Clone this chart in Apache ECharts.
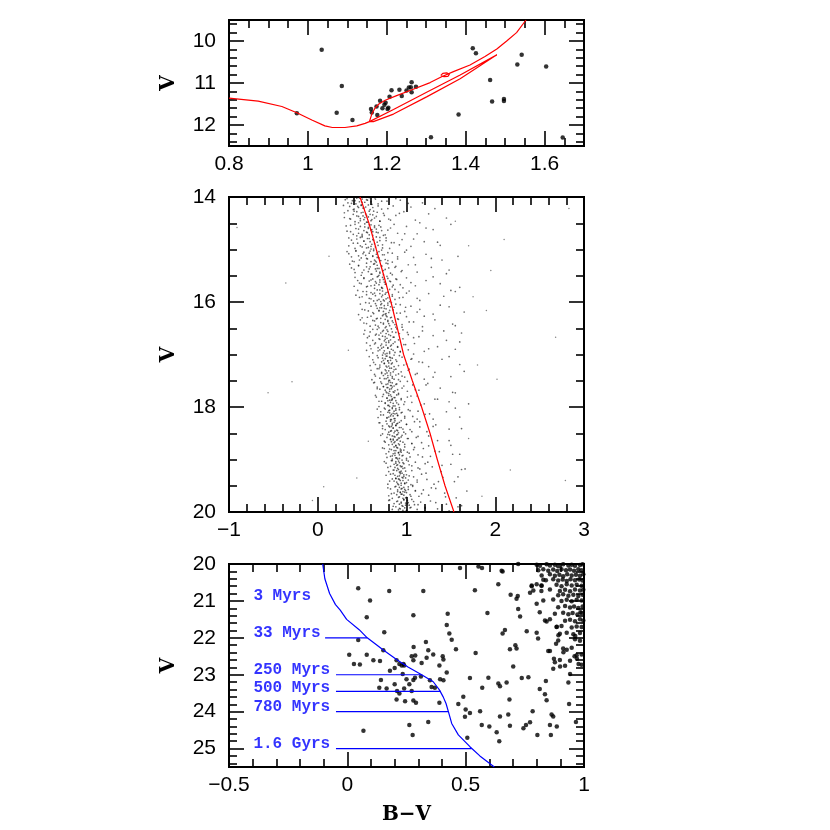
<!DOCTYPE html>
<html>
<head>
<meta charset="utf-8">
<script src="https://cdn.jsdelivr.net/npm/echarts@6.0.0/dist/echarts.min.js"></script>
<style>
  html, body { margin: 0; padding: 0; background: #fff; }
  #chart { width: 830px; height: 830px; }
</style>
</head>
<body>
<div id="chart"></div>
<script>
// ---- tick labels ----
var topXTicks = [0.8, 1, 1.2, 1.4, 1.6];
var topYTicks = [10, 11, 12];
var midXTicks = [-1, 0, 1, 2, 3];
var midYTicks = [14, 16, 18, 20];
var lowXTicks = [-0.5, 0, 0.5, 1];
var lowYTicks = [20, 21, 22, 23, 24, 25];

// ---- top panel: bright stars + isochrone ----
var topStars = [
  [1.035, 10.21], [1.086, 11.07], [0.972, 11.72], [1.073, 11.71], [1.113, 11.88],
  [1.16, 11.62], [1.162, 11.7], [1.174, 11.56], [1.176, 11.76], [1.183, 11.42],
  [1.189, 11.6], [1.194, 11.52], [1.197, 11.47], [1.202, 11.62], [1.204, 11.59],
  [1.207, 11.33], [1.212, 11.17], [1.232, 11.16], [1.238, 11.31], [1.25, 11.18],
  [1.256, 11.11], [1.261, 11.1], [1.263, 10.98], [1.263, 11.22], [1.274, 11.09],
  [1.418, 10.17], [1.426, 10.29], [1.462, 10.93], [1.467, 11.44], [1.497, 11.38],
  [1.497, 11.43], [1.531, 10.56], [1.542, 10.33], [1.604, 10.61], [1.382, 11.75],
  [1.312, 12.29], [1.646, 12.3]
];
var topIsoMain = [
  [0.8, 11.36], [0.874, 11.43], [0.934, 11.56], [0.972, 11.71], [1.01, 11.88],
  [1.043, 12.02], [1.062, 12.06], [1.094, 12.06], [1.124, 12.02], [1.145, 11.96],
  [1.156, 11.92], [1.162, 11.74], [1.17, 11.6], [1.18, 11.5], [1.196, 11.41],
  [1.225, 11.3], [1.267, 11.15], [1.31, 10.99], [1.339, 10.85], [1.369, 10.73],
  [1.411, 10.57], [1.449, 10.37], [1.479, 10.19], [1.504, 10.0], [1.529, 9.8],
  [1.553, 9.5]
];
var topIsoBranch = [
  [1.156, 11.92], [1.217, 11.63], [1.301, 11.22], [1.386, 10.81], [1.479, 10.33],
  [1.386, 10.9], [1.301, 11.33], [1.217, 11.74], [1.166, 11.92], [1.156, 11.92]
];
var topIsoLoop = [
  [1.337, 10.82], [1.342, 10.77], [1.352, 10.76], [1.359, 10.79], [1.355, 10.84],
  [1.345, 10.85], [1.337, 10.82]
];

// ---- middle panel: field CMD ----
var midStarsBright = [
  [0.33,14.03],[0.38,14.12],[0.42,14.07],[0.45,14.18],[0.47,14.02],[0.5,14.1],[0.52,14.21],[0.55,14.05],[0.57,14.15],[0.6,14.09],[0.62,14.2],[0.65,14.04],[0.68,14.13],[0.72,14.23],[0.78,14.08],[0.85,14.17],[0.93,14.06],[1.05,14.19],[1.18,14.11],[1.32,14.22],[0.4,14.24],[0.58,14.01],[0.49,14.16],
  [0.3,14.3],[0.36,14.41],[0.41,14.27],[0.44,14.36],[0.48,14.45],[0.51,14.29],[0.53,14.39],[0.56,14.48],[0.59,14.33],[0.61,14.43],[0.63,14.27],[0.66,14.37],[0.7,14.46],[0.74,14.31],[0.8,14.42],[0.88,14.35],[0.97,14.28],[1.1,14.44],[1.25,14.32],[1.45,14.4],[0.55,14.35],[0.46,14.49],
  [0.32,14.55],[0.37,14.66],[0.42,14.52],[0.46,14.61],[0.5,14.71],[0.53,14.57],[0.56,14.68],[0.58,14.53],[0.6,14.63],[0.62,14.73],[0.64,14.58],[0.66,14.67],[0.69,14.54],[0.72,14.64],[0.76,14.72],[0.82,14.59],[0.9,14.69],[1.0,14.56],[1.12,14.7],[1.3,14.62],[1.5,14.52],[0.44,14.74],[0.57,14.6],
  [0.35,14.78],[0.4,14.88],[0.44,14.8],[0.48,14.93],[0.52,14.84],[0.55,14.97],[0.58,14.79],[0.61,14.9],[0.63,14.82],[0.65,14.95],[0.67,14.86],[0.7,14.77],[0.73,14.91],[0.77,14.83],[0.81,14.98],[0.86,14.87],[0.95,14.81],[1.05,14.94],[1.2,14.85],[1.38,14.92],[0.6,14.99],[0.5,14.76],
  [0.33,15.04],[0.38,15.14],[0.43,15.02],[0.47,15.2],[0.51,15.08],[0.55,15.17],[0.59,15.03],[0.62,15.12],[0.65,15.22],[0.67,15.06],[0.69,15.16],[0.72,15.01],[0.75,15.1],[0.79,15.21],[0.84,15.07],[0.9,15.18],[0.98,15.05],[1.08,15.15],[1.22,15.09],[1.4,15.2],[1.58,15.13],[0.66,15.24],[0.41,15.23],
  [0.36,15.28],[0.41,15.38],[0.46,15.3],[0.5,15.44],[0.55,15.33],[0.6,15.47],[0.64,15.27],[0.67,15.36],[0.7,15.45],[0.72,15.31],[0.74,15.4],[0.77,15.26],[0.8,15.35],[0.84,15.48],[0.88,15.32],[0.94,15.42],[1.02,15.29],[1.12,15.43],[1.28,15.34],[1.48,15.39],[0.69,15.49],[0.58,15.37],
  [0.42,15.53],[0.47,15.64],[0.52,15.55],[0.56,15.7],[0.6,15.58],[0.64,15.68],[0.67,15.52],[0.7,15.62],[0.72,15.73],[0.74,15.57],[0.76,15.66],[0.78,15.51],[0.81,15.6],[0.84,15.71],[0.88,15.56],[0.93,15.67],[1.0,15.54],[1.1,15.69],[1.22,15.59],[1.38,15.65],[1.6,15.72],[0.73,15.74],[0.65,15.61],
  [0.45,15.78],[0.5,15.9],[0.55,15.8],[0.6,15.94],[0.64,15.83],[0.67,15.97],[0.7,15.77],[0.73,15.87],[0.75,15.98],[0.77,15.82],[0.79,15.92],[0.81,15.76],[0.84,15.86],[0.87,15.95],[0.91,15.81],[0.96,15.91],[1.03,15.79],[1.12,15.93],[1.25,15.84],[1.42,15.89],[0.71,15.99],[0.62,15.85],[1.55,15.8]
];
var midStarsMiddle = [
  [0.48,16.04],[0.53,16.15],[0.58,16.02],[0.62,16.2],[0.66,16.07],[0.69,16.17],[0.72,16.03],[0.75,16.12],[0.77,16.22],[0.79,16.06],[0.81,16.16],[0.83,16.01],[0.86,16.1],[0.89,16.21],[0.93,16.05],[0.98,16.18],[1.05,16.08],[1.15,16.14],[1.3,16.23],[1.48,16.09],[1.65,16.19],[0.74,16.24],[0.7,16.11],
  [0.5,16.3],[0.55,16.41],[0.6,16.27],[0.64,16.36],[0.68,16.46],[0.71,16.31],[0.74,16.4],[0.77,16.26],[0.79,16.35],[0.81,16.45],[0.83,16.29],[0.85,16.39],[0.88,16.48],[0.91,16.33],[0.95,16.43],[1.0,16.28],[1.08,16.38],[1.18,16.47],[1.32,16.34],[1.52,16.42],[0.76,16.49],[0.66,16.32],
  [0.53,16.54],[0.58,16.65],[0.62,16.52],[0.66,16.61],[0.7,16.71],[0.73,16.56],[0.76,16.66],[0.78,16.53],[0.8,16.62],[0.82,16.72],[0.84,16.57],[0.86,16.67],[0.89,16.51],[0.92,16.6],[0.96,16.7],[1.01,16.58],[1.08,16.68],[1.18,16.55],[1.3,16.64],[1.45,16.73],[1.62,16.59],[0.75,16.74],[0.69,16.63],
  [0.55,16.78],[0.6,16.89],[0.64,16.8],[0.68,16.93],[0.71,16.83],[0.74,16.97],[0.77,16.77],[0.79,16.87],[0.81,16.98],[0.83,16.82],[0.85,16.92],[0.87,16.76],[0.9,16.86],[0.93,16.95],[0.97,16.81],[1.02,16.91],[1.09,16.79],[1.2,16.94],[1.35,16.85],[1.55,16.9],[0.76,16.99],[0.72,16.88],
  [0.58,17.04],[0.63,17.15],[0.67,17.02],[0.7,17.2],[0.73,17.07],[0.75,17.17],[0.77,17.03],[0.79,17.12],[0.8,17.22],[0.82,17.06],[0.84,17.16],[0.86,17.01],[0.88,17.1],[0.91,17.21],[0.95,17.05],[1.0,17.18],[1.06,17.08],[1.14,17.14],[1.25,17.23],[1.4,17.09],[1.6,17.19],[0.78,17.24],[0.74,17.11],
  [0.6,17.3],[0.65,17.41],[0.69,17.27],[0.72,17.36],[0.75,17.46],[0.77,17.31],[0.79,17.4],[0.81,17.26],[0.82,17.35],[0.84,17.45],[0.86,17.29],[0.88,17.39],[0.91,17.48],[0.94,17.33],[0.98,17.43],[1.03,17.28],[1.1,17.38],[1.2,17.47],[1.32,17.34],[1.5,17.42],[0.8,17.49],[0.76,17.37],
  [0.63,17.54],[0.67,17.65],[0.71,17.52],[0.74,17.61],[0.77,17.71],[0.79,17.56],[0.81,17.66],[0.82,17.53],[0.84,17.62],[0.86,17.72],[0.88,17.57],[0.9,17.67],[0.93,17.51],[0.97,17.6],[1.01,17.7],[1.07,17.58],[1.14,17.68],[1.24,17.55],[1.38,17.64],[1.55,17.73],[0.8,17.74],[0.78,17.63],[0.83,17.59],
  [0.65,17.78],[0.69,17.89],[0.73,17.8],[0.76,17.93],[0.78,17.83],[0.8,17.97],[0.82,17.77],[0.83,17.87],[0.85,17.98],[0.87,17.82],[0.89,17.92],[0.91,17.76],[0.94,17.86],[0.97,17.95],[1.01,17.81],[1.06,17.91],[1.12,17.79],[1.2,17.94],[1.32,17.85],[1.48,17.9],[0.81,17.99],[0.79,17.88],[0.84,17.84]
];
var midStarsFaint = [
  [0.67,18.04],[0.71,18.15],[0.75,18.02],[0.78,18.2],[0.8,18.07],[0.82,18.17],[0.84,18.03],[0.85,18.12],[0.86,18.22],[0.88,18.06],[0.9,18.16],[0.92,18.01],[0.95,18.1],[0.98,18.21],[1.02,18.05],[1.07,18.18],[1.13,18.08],[1.21,18.14],[1.3,18.23],[1.45,18.09],[1.6,18.19],[0.83,18.24],[0.81,18.11],[0.87,18.13],
  [0.69,18.3],[0.73,18.41],[0.77,18.27],[0.8,18.36],[0.82,18.46],[0.84,18.31],[0.85,18.4],[0.87,18.26],[0.88,18.35],[0.9,18.45],[0.92,18.29],[0.94,18.39],[0.97,18.48],[1.0,18.33],[1.04,18.43],[1.09,18.28],[1.15,18.38],[1.23,18.47],[1.33,18.34],[1.48,18.42],[0.86,18.49],[0.83,18.37],[0.89,18.32],
  [0.71,18.54],[0.75,18.65],[0.79,18.52],[0.82,18.61],[0.84,18.71],[0.86,18.56],[0.87,18.66],[0.89,18.53],[0.9,18.62],[0.92,18.72],[0.94,18.57],[0.96,18.67],[0.99,18.51],[1.02,18.6],[1.06,18.7],[1.11,18.58],[1.17,18.68],[1.25,18.55],[1.35,18.64],[1.5,18.73],[0.88,18.74],[0.85,18.63],[0.91,18.59],
  [0.73,18.78],[0.77,18.89],[0.81,18.8],[0.84,18.93],[0.86,18.83],[0.88,18.97],[0.89,18.77],[0.91,18.87],[0.92,18.98],[0.94,18.82],[0.96,18.92],[0.98,18.76],[1.01,18.86],[1.04,18.95],[1.08,18.81],[1.13,18.91],[1.19,18.79],[1.27,18.94],[1.37,18.85],[1.52,18.9],[0.9,18.99],[0.87,18.88],[0.93,18.84],
  [0.75,19.04],[0.79,19.15],[0.83,19.02],[0.86,19.2],[0.88,19.07],[0.9,19.17],[0.91,19.03],[0.93,19.12],[0.94,19.22],[0.96,19.06],[0.98,19.16],[1.0,19.01],[1.03,19.1],[1.06,19.21],[1.1,19.05],[1.15,19.18],[1.21,19.08],[1.29,19.14],[1.39,19.23],[1.5,19.09],[1.62,19.19],[0.92,19.24],[0.89,19.11],[0.95,19.13],
  [0.77,19.3],[0.81,19.41],[0.85,19.27],[0.88,19.36],[0.9,19.46],[0.92,19.31],[0.93,19.4],[0.95,19.26],[0.96,19.35],[0.98,19.45],[1.0,19.29],[1.02,19.39],[1.05,19.48],[1.08,19.33],[1.12,19.43],[1.17,19.28],[1.23,19.38],[1.31,19.47],[1.41,19.34],[1.54,19.42],[0.94,19.49],[0.91,19.37],[0.97,19.32],
  [0.79,19.54],[0.83,19.65],[0.87,19.52],[0.9,19.61],[0.92,19.71],[0.94,19.56],[0.95,19.66],[0.97,19.53],[0.98,19.62],[1.0,19.72],[1.02,19.57],[1.04,19.67],[1.07,19.51],[1.1,19.6],[1.14,19.7],[1.19,19.58],[1.25,19.68],[1.33,19.55],[1.43,19.64],[1.56,19.73],[0.96,19.74],[0.93,19.63],[0.99,19.59],
  [0.8,19.78],[0.85,19.89],[0.89,19.8],[0.92,19.93],[0.94,19.83],[0.96,19.97],[0.97,19.77],[0.99,19.87],[1.0,19.98],[1.02,19.82],[1.04,19.92],[1.06,19.76],[1.09,19.86],[1.12,19.95],[1.16,19.81],[1.21,19.91],[1.27,19.79],[1.35,19.94],[1.45,19.85],[1.58,19.9],[0.98,19.99],[0.95,19.88],[1.01,19.84]
];
var midStarsCore = [
  [1.02,14.12],[0.88,14.03],[0.79,14.22],[0.72,14.08],[0.68,14.17],[0.64,14.01],[0.61,14.14],[0.59,14.24],[0.56,14.06],[0.54,14.19],[0.53,14.1],[0.51,14.21],[0.5,14.04],[0.49,14.15],[0.47,14.09],[0.46,14.2],[0.44,14.02],[0.43,14.13],[0.41,14.23],[0.39,14.07],[0.36,14.18],[0.34,14.11],[0.31,14.05],[0.29,14.16],
  [1.15,14.49],[0.92,14.31],[0.82,14.44],[0.75,14.35],[0.7,14.46],[0.67,14.29],[0.64,14.4],[0.62,14.34],[0.6,14.45],[0.58,14.27],[0.57,14.38],[0.55,14.48],[0.54,14.32],[0.52,14.43],[0.51,14.36],[0.49,14.3],[0.48,14.41],[0.46,14.37],[0.44,14.28],[0.42,14.47],[0.4,14.33],[0.37,14.42],[0.34,14.26],[0.3,14.39],
  [1.22,14.59],[0.98,14.7],[0.86,14.52],[0.79,14.63],[0.74,14.73],[0.71,14.57],[0.68,14.68],[0.66,14.61],[0.64,14.55],[0.62,14.66],[0.61,14.62],[0.6,14.53],[0.58,14.72],[0.57,14.58],[0.55,14.67],[0.53,14.51],[0.52,14.64],[0.5,14.74],[0.48,14.56],[0.46,14.69],[0.43,14.6],[0.4,14.71],[0.37,14.54],[0.33,14.65],
  [1.35,14.86],[1.08,14.8],[0.92,14.91],[0.83,14.87],[0.77,14.78],[0.73,14.97],[0.7,14.83],[0.68,14.92],[0.66,14.76],[0.64,14.89],[0.63,14.99],[0.62,14.81],[0.6,14.94],[0.59,14.85],[0.57,14.96],[0.56,14.79],[0.54,14.9],[0.52,14.84],[0.5,14.95],[0.48,14.77],[0.45,14.88],[0.42,14.98],[0.38,14.82],[0.35,14.93],
  [1.28,15.17],[1.0,15.01],[0.9,15.14],[0.84,15.24],[0.79,15.06],[0.76,15.19],[0.73,15.1],[0.71,15.21],[0.69,15.04],[0.67,15.15],[0.66,15.09],[0.64,15.2],[0.63,15.02],[0.62,15.13],[0.6,15.23],[0.58,15.07],[0.56,15.18],[0.54,15.11],[0.52,15.05],[0.49,15.16],[0.46,15.12],[0.43,15.03],[0.39,15.22],[0.35,15.08],
  [1.45,15.46],[1.1,15.29],[0.95,15.4],[0.87,15.34],[0.82,15.45],[0.79,15.27],[0.76,15.38],[0.74,15.48],[0.72,15.32],[0.7,15.43],[0.69,15.36],[0.67,15.3],[0.66,15.41],[0.65,15.37],[0.63,15.28],[0.61,15.47],[0.59,15.33],[0.57,15.42],[0.55,15.26],[0.52,15.39],[0.49,15.49],[0.46,15.31],[0.42,15.44],[0.38,15.35],
  [1.3,15.52],[1.05,15.63],[0.96,15.73],[0.89,15.57],[0.85,15.68],[0.82,15.61],[0.79,15.55],[0.77,15.66],[0.75,15.62],[0.73,15.53],[0.72,15.72],[0.7,15.58],[0.69,15.67],[0.68,15.51],[0.66,15.64],[0.64,15.74],[0.62,15.56],[0.6,15.69],[0.58,15.6],[0.55,15.71],[0.52,15.54],[0.49,15.65],[0.45,15.59],[0.41,15.7],
  [1.5,15.78],[1.15,15.97],[1.0,15.83],[0.92,15.92],[0.87,15.76],[0.84,15.89],[0.81,15.99],[0.79,15.81],[0.77,15.94],[0.76,15.85],[0.74,15.96],[0.73,15.79],[0.72,15.9],[0.7,15.84],[0.69,15.95],[0.67,15.77],[0.65,15.88],[0.63,15.98],[0.6,15.82],[0.58,15.93],[0.55,15.86],[0.51,15.8],[0.47,15.91],[0.43,15.87],
  [1.38,16.06],[1.12,16.19],[0.99,16.1],[0.93,16.21],[0.88,16.04],[0.85,16.15],[0.82,16.09],[0.8,16.2],[0.79,16.02],[0.77,16.13],[0.76,16.23],[0.75,16.07],[0.74,16.18],[0.72,16.11],[0.71,16.05],[0.69,16.16],[0.67,16.12],[0.65,16.03],[0.63,16.22],[0.6,16.08],[0.57,16.17],[0.54,16.01],[0.5,16.14],[0.46,16.24],
  [1.55,16.45],[1.2,16.27],[1.03,16.38],[0.95,16.48],[0.9,16.32],[0.87,16.43],[0.84,16.36],[0.82,16.3],[0.8,16.41],[0.79,16.37],[0.78,16.28],[0.77,16.47],[0.76,16.33],[0.74,16.42],[0.73,16.26],[0.71,16.39],[0.69,16.49],[0.67,16.31],[0.65,16.44],[0.62,16.35],[0.59,16.46],[0.56,16.29],[0.52,16.4],[0.48,16.34],
  [1.42,16.55],[1.14,16.66],[1.02,16.62],[0.96,16.53],[0.91,16.72],[0.88,16.58],[0.85,16.67],[0.83,16.51],[0.82,16.64],[0.8,16.74],[0.79,16.56],[0.78,16.69],[0.77,16.6],[0.76,16.71],[0.74,16.54],[0.73,16.65],[0.71,16.59],[0.69,16.7],[0.67,16.52],[0.65,16.63],[0.62,16.73],[0.59,16.57],[0.56,16.68],[0.52,16.61],
  [1.6,16.76],[1.25,16.89],[1.08,16.99],[0.99,16.81],[0.93,16.94],[0.9,16.85],[0.87,16.96],[0.85,16.79],[0.83,16.9],[0.82,16.84],[0.81,16.95],[0.8,16.77],[0.79,16.88],[0.78,16.98],[0.77,16.82],[0.75,16.93],[0.74,16.86],[0.72,16.8],[0.7,16.91],[0.68,16.87],[0.65,16.78],[0.62,16.97],[0.59,16.83],[0.55,16.92],
  [1.48,17.04],[1.18,17.15],[1.05,17.09],[0.97,17.2],[0.92,17.02],[0.89,17.13],[0.86,17.23],[0.84,17.07],[0.83,17.18],[0.82,17.11],[0.81,17.05],[0.8,17.16],[0.79,17.12],[0.78,17.03],[0.77,17.22],[0.76,17.08],[0.75,17.17],[0.73,17.01],[0.72,17.14],[0.7,17.24],[0.68,17.06],[0.65,17.19],[0.62,17.1],[0.59,17.21],
  [1.65,17.32],[1.3,17.43],[1.12,17.36],[1.02,17.3],[0.95,17.41],[0.91,17.37],[0.88,17.28],[0.86,17.47],[0.85,17.33],[0.84,17.42],[0.83,17.26],[0.82,17.39],[0.81,17.49],[0.8,17.31],[0.79,17.44],[0.78,17.35],[0.77,17.46],[0.76,17.29],[0.74,17.4],[0.72,17.34],[0.7,17.45],[0.67,17.27],[0.64,17.38],[0.61,17.48],
  [1.52,17.72],[1.22,17.58],[1.1,17.67],[1.01,17.51],[0.95,17.64],[0.91,17.74],[0.89,17.56],[0.87,17.69],[0.86,17.6],[0.85,17.71],[0.84,17.54],[0.83,17.65],[0.82,17.59],[0.81,17.7],[0.8,17.52],[0.79,17.63],[0.78,17.73],[0.77,17.57],[0.76,17.68],[0.74,17.61],[0.72,17.55],[0.7,17.66],[0.67,17.62],[0.64,17.53],
  [1.7,17.94],[1.35,17.85],[1.16,17.96],[1.05,17.79],[0.98,17.9],[0.94,17.84],[0.91,17.95],[0.89,17.77],[0.88,17.88],[0.87,17.98],[0.86,17.82],[0.85,17.93],[0.84,17.86],[0.83,17.8],[0.82,17.91],[0.81,17.87],[0.8,17.78],[0.79,17.97],[0.78,17.83],[0.76,17.92],[0.74,17.76],[0.72,17.89],[0.69,17.99],[0.66,17.81],
  [1.55,18.02],[1.26,18.13],[1.12,18.23],[1.04,18.07],[0.98,18.18],[0.94,18.11],[0.92,18.05],[0.9,18.16],[0.89,18.12],[0.88,18.03],[0.87,18.22],[0.86,18.08],[0.85,18.17],[0.84,18.01],[0.83,18.14],[0.82,18.24],[0.81,18.06],[0.8,18.19],[0.79,18.1],[0.78,18.21],[0.76,18.04],[0.74,18.15],[0.71,18.09],[0.68,18.2],
  [1.62,18.41],[1.3,18.37],[1.15,18.28],[1.06,18.47],[1.0,18.33],[0.96,18.42],[0.94,18.26],[0.92,18.39],[0.91,18.49],[0.9,18.31],[0.89,18.44],[0.88,18.35],[0.87,18.46],[0.86,18.29],[0.85,18.4],[0.84,18.34],[0.83,18.45],[0.82,18.27],[0.81,18.38],[0.8,18.48],[0.78,18.32],[0.76,18.43],[0.73,18.36],[0.7,18.3],
  [1.48,18.64],[1.25,18.74],[1.13,18.56],[1.06,18.69],[1.01,18.6],[0.98,18.71],[0.95,18.54],[0.93,18.65],[0.92,18.59],[0.91,18.7],[0.9,18.52],[0.89,18.63],[0.88,18.73],[0.87,18.57],[0.86,18.68],[0.85,18.61],[0.84,18.55],[0.83,18.66],[0.82,18.62],[0.81,18.53],[0.8,18.72],[0.78,18.58],[0.76,18.67],[0.73,18.51],
  [1.6,18.9],[1.32,18.84],[1.18,18.95],[1.09,18.77],[1.03,18.88],[1.0,18.98],[0.97,18.82],[0.95,18.93],[0.94,18.86],[0.93,18.8],[0.92,18.91],[0.91,18.87],[0.9,18.78],[0.89,18.97],[0.88,18.83],[0.87,18.92],[0.86,18.76],[0.85,18.89],[0.84,18.99],[0.83,18.81],[0.82,18.94],[0.8,18.85],[0.78,18.96],[0.75,18.79],
  [1.66,19.18],[1.4,19.11],[1.24,19.05],[1.13,19.16],[1.06,19.12],[1.02,19.03],[0.99,19.22],[0.97,19.08],[0.96,19.17],[0.95,19.01],[0.94,19.14],[0.93,19.24],[0.92,19.06],[0.91,19.19],[0.9,19.1],[0.89,19.21],[0.88,19.04],[0.87,19.15],[0.86,19.09],[0.85,19.2],[0.84,19.02],[0.82,19.13],[0.8,19.23],[0.77,19.07],
  [1.58,19.33],[1.36,19.42],[1.22,19.26],[1.12,19.39],[1.07,19.49],[1.03,19.31],[1.0,19.44],[0.99,19.35],[0.98,19.46],[0.97,19.29],[0.96,19.4],[0.95,19.34],[0.94,19.45],[0.93,19.27],[0.92,19.38],[0.91,19.48],[0.9,19.32],[0.89,19.43],[0.88,19.36],[0.87,19.3],[0.86,19.41],[0.84,19.37],[0.82,19.28],[0.79,19.47],
  [1.68,19.6],[1.44,19.71],[1.28,19.54],[1.17,19.65],[1.1,19.59],[1.05,19.7],[1.02,19.52],[1.0,19.63],[0.99,19.73],[0.98,19.57],[0.97,19.68],[0.96,19.61],[0.95,19.55],[0.94,19.66],[0.93,19.62],[0.92,19.53],[0.91,19.72],[0.9,19.58],[0.89,19.67],[0.88,19.51],[0.86,19.64],[0.84,19.74],[0.82,19.56],[0.8,19.69],
  [1.62,19.88],[1.48,19.98],[1.33,19.82],[1.21,19.93],[1.13,19.86],[1.08,19.8],[1.05,19.91],[1.03,19.87],[1.01,19.78],[1.0,19.97],[0.99,19.83],[0.98,19.92],[0.97,19.76],[0.96,19.89],[0.95,19.99],[0.94,19.81],[0.93,19.94],[0.92,19.85],[0.91,19.96],[0.9,19.79],[0.88,19.9],[0.86,19.84],[0.84,19.95],[0.81,19.77]
];
var midField = [
  [-0.36,15.64],[-0.29,17.52],[-0.56,17.73],[0.127,15.13],[0.067,19.52],[0.44,19.35],
  [0.345,16.92],[2.1,14.81],[2.83,14.22],[2.68,16.67],[2.02,17.47],[2.17,19.2],
  [2.79,19.4],[1.9,16.16],[1.7,14.93],[1.95,15.4],[1.55,14.46],[-0.91,14.58],
  [-0.06,19.78],[0.57,18.65],[1.75,15.9],[1.8,17.2],[1.7,18.6],[1.85,19.7]
];
var midIso = [
  [0.476, 14], [0.577, 14.5], [0.66, 15], [0.745, 15.5], [0.825, 16], [0.897, 16.5],
  [0.967, 17], [1.066, 17.5], [1.17, 18], [1.265, 18.5], [1.347, 19], [1.434, 19.5],
  [1.535, 20]
];

// ---- bottom panel: faint stars + isochrone + age marks ----
var lowStars = [
  [0.046,20.66],[0.096,20.99],[0.082,21.44],[0.068,24.52],[0.008,22.46],[0.028,22.71],
  [0.053,22.72],[0.046,22.06],[0.082,22.46],[0.156,21.85],[0.177,20.73],[0.11,22.61],
  [0.138,22.63],[0.152,22.34],[0.142,23.14],[0.135,23.35],[0.166,23.37],[0.18,22.89],
  [0.2,22.82],[0.208,22.61],[0.22,22.71],[0.2,23.26],[0.21,23.44],[0.22,23.51],
  [0.208,23.67],[0.234,22.98],[0.24,23.37],[0.25,23.12],[0.262,23.26],[0.272,23.44],
  [0.279,23.14],[0.286,23.08],[0.279,23.7],[0.29,23.76],[0.244,23.72],[0.262,24.36],
  [0.276,24.63],[0.237,22.71],[0.23,22.75],[0.24,22.75],[0.279,21.39],[0.28,22.25],
  [0.287,22.48],[0.272,22.5],[0.279,22.61],[0.314,22.68],[0.311,23.05],[0.321,20.73],
  [0.332,22.11],[0.342,22.34],[0.335,22.54],[0.363,22.45],[0.349,23.15],[0.356,23.33],
  [0.342,24.28],[0.37,23.35],[0.389,22.75],[0.403,22.5],[0.406,22.59],[0.389,23.76],
  [0.42,22.94],[0.424,21.35],[0.42,21.65],[0.431,21.88],[0.441,22.05],[0.406,23.15],
  [0.392,23.12],[0.476,20.11],[0.459,22.31],[0.469,23.79],[0.49,23.6],[0.497,24.14],
  [0.5,23.94],[0.507,24.71],[0.518,24.04],[0.518,23.09],[0.539,20.71],[0.542,22.41],
  [0.554,20.07],[0.569,20.11],[0.561,23.99],[0.568,24.36],[0.57,23.35],[0.592,21.33],
  [0.596,23.08],[0.6,24.4],[0.631,24.56],[0.638,20.55],[0.638,23.24],[0.645,23.31],
  [0.642,24.8],[0.652,20.18],[0.656,21.88],[0.666,21.79],[0.645,24.13],[0.673,23.21],
  [0.68,24.08],[0.685,23.67],[0.687,24.38],[0.687,22.31],[0.69,20.83],[0.701,22.78],
  [0.715,22.29],[0.715,20.94],[0.72,20.87],[0.722,20.0],[0.722,21.22],[0.73,21.42],
  [0.737,23.09],[0.744,24.45],[0.755,24.36],[0.765,23.07],[0.758,21.82],[0.772,24.29],
  [0.783,23.99],[0.779,20.6],[0.772,20.78],[0.8,21.86],[0.8,21.08],[0.803,24.63],
  [0.806,22.02],[0.813,21.31],[0.813,23.39],[0.82,20.58],[0.82,20.73],[0.828,20.43],
  [0.835,23.53],[0.839,23.17],[0.842,21.56],[0.842,23.69],[0.849,22.36],[0.856,22.36],
  [0.856,24.36],[0.86,24.63],[0.863,24.08],[0.87,24.13],[0.87,22.84],[0.873,22.57],
  [0.877,22.66],[0.882,22.16],[0.885,24.4],[0.885,21.7],[0.892,21.93],[0.899,22.78],
  [0.92,22.76],[0.913,22.39],[0.927,22.32],[0.934,23.21],[0.937,23.79],[0.941,22.98],
  [0.96,22.5],[0.963,21.95],[0.97,22.57],[0.977,22.71],[0.966,24.28],[0.99,22.73],
  [0.985,21.31],[0.656,20.2],[0.71,22.2]
];
var lowCluster = [
  [0.8,20.02],[0.814,20.05],[0.842,20.01],[0.856,20.04],[0.877,20.02],[0.891,20.06],[0.912,20.01],[0.934,20.04],[0.948,20.02],[0.962,20.05],[0.983,20.03],[0.994,20.01],
  [0.807,20.17],[0.828,20.14],[0.849,20.18],[0.87,20.15],[0.887,20.19],[0.905,20.14],[0.924,20.17],[0.941,20.15],[0.958,20.18],[0.976,20.14],[0.99,20.17],
  [0.821,20.31],[0.856,20.28],[0.877,20.32],[0.896,20.29],[0.912,20.33],[0.929,20.28],[0.948,20.31],[0.966,20.29],[0.983,20.32],[0.997,20.28],
  [0.839,20.44],[0.87,20.41],[0.891,20.45],[0.91,20.42],[0.927,20.46],[0.943,20.41],[0.962,20.44],[0.98,20.42],[0.994,20.45],
  [0.779,20.58],[0.8,20.55],[0.821,20.59],[0.884,20.56],[0.905,20.6],[0.927,20.55],[0.948,20.58],[0.969,20.56],[0.99,20.59],
  [0.786,20.72],[0.856,20.69],[0.898,20.73],[0.92,20.7],[0.941,20.74],[0.962,20.69],[0.983,20.72],[0.997,20.7],
  [0.891,20.85],[0.912,20.82],[0.934,20.86],[0.955,20.83],[0.976,20.87],[0.994,20.83],
  [0.828,20.99],[0.87,20.96],[0.905,21.0],[0.927,20.97],[0.948,21.01],[0.969,20.97],[0.99,20.99],
  [0.891,21.17],[0.92,21.14],[0.941,21.18],[0.958,21.15],[0.976,21.19],[0.994,21.15],
  [0.877,21.35],[0.912,21.32],[0.934,21.36],[0.952,21.33],[0.972,21.37],[0.99,21.33],
  [0.835,21.53],[0.856,21.5],[0.92,21.54],[0.941,21.51],[0.962,21.55],[0.983,21.5],[0.997,21.53],
  [0.884,21.71],[0.905,21.68],[0.948,21.72],[0.969,21.69],[0.99,21.71],
  [0.898,21.89],[0.927,21.86],[0.955,21.9],[0.983,21.87],
  [0.891,22.07],[0.962,22.04],[0.983,22.08],
  [0.912,22.29],[0.948,22.27],[0.969,22.47],[0.99,22.45],[0.898,22.6],[0.941,22.62]
];
var lowIso = [
  [-0.104, 20], [-0.095, 20.4], [-0.075, 20.8], [-0.05, 21.1], [-0.03, 21.25],
  [-0.003, 21.5], [0.05, 21.78], [0.084, 22], [0.152, 22.33], [0.211, 22.6],
  [0.258, 22.8], [0.314, 23], [0.363, 23.19], [0.389, 23.41], [0.405, 23.6],
  [0.417, 23.78], [0.427, 24], [0.441, 24.32], [0.469, 24.63], [0.518, 24.95],
  [0.56, 25.2], [0.621, 25.5]
];
var ageNames = ['3 Myrs', '33 Myrs', '250 Myrs', '500 Myrs', '780 Myrs', '1.6 Gyrs'];
var ageLabelMags = [20.86, 21.88, 22.87, 23.35, 23.88, 24.88];
var ageLabelX = -0.399;
var ageLineMags = [null, 22, 23, 23.45, 24, 25];
var ageLineStart = [null, -0.094, -0.048, -0.048, -0.048, -0.048];
var ageLineEnd = [null, 0.084, 0.314, 0.394, 0.427, 0.525];

// ---- axes helpers ----
function fmt(v) { return String(v).replace('-', '\u2212'); }

function minorTicks(min, max, step, major) {
  var out = [];
  for (var k = Math.ceil(min / step - 1e-6); k * step <= max + 1e-6; k++) {
    var v = +(k * step).toFixed(4);
    var isMajor = major.some(function (m) { return Math.abs(m - v) < 1e-6; });
    if (!isMajor && v > min + 1e-6 && v < max - 1e-6) out.push(v);
  }
  return out;
}

function axis(gi, pos, min, max, ticks, len, isY, labels, name) {
  var a = {
    type: 'value', gridIndex: gi, position: pos, min: min, max: max, inverse: isY,
    axisLine: { show: false, onZero: false },
    splitLine: { show: false },
    axisTick: { show: true, inside: true, length: len, customValues: ticks,
      lineStyle: { color: '#000', width: 1.6 } },
    axisLabel: { show: labels, customValues: ticks, margin: isY ? 13 : 8,
      fontSize: 21, fontFamily: 'Liberation Sans', color: '#000', formatter: fmt }
  };
  if (labels && name) {
    a.name = name;
    a.nameLocation = 'middle';
    a.nameGap = isY ? 50 : 38;
    a.nameTextStyle = { fontSize: 20, fontWeight: 'bold', fontFamily: 'DejaVu Serif', color: '#000' };
  }
  return a;
}

function panel(gi, xr, yr, xName) {
  var xMinor = minorTicks(xr[0], xr[1], xr[3], xr[2]);
  var yMinor = minorTicks(yr[0], yr[1], yr[3], yr[2]);
  return {
    x: [
      axis(gi, 'bottom', xr[0], xr[1], xr[2], 15, false, true, xName),
      axis(gi, 'bottom', xr[0], xr[1], xMinor, 8, false, false),
      axis(gi, 'top', xr[0], xr[1], xr[2], 15, false, false),
      axis(gi, 'top', xr[0], xr[1], xMinor, 8, false, false)
    ],
    y: [
      axis(gi, 'left', yr[0], yr[1], yr[2], 15, true, true, 'V'),
      axis(gi, 'left', yr[0], yr[1], yMinor, 8, true, false),
      axis(gi, 'right', yr[0], yr[1], yr[2], 15, true, false),
      axis(gi, 'right', yr[0], yr[1], yMinor, 8, true, false)
    ]
  };
}

var p0 = panel(0, [0.8, 1.7, topXTicks, 0.05], [9.5, 12.5, topYTicks, 0.2]);
var p1 = panel(1, [-1, 3, midXTicks, 0.2], [14, 20, midYTicks, 0.5]);
var p2 = panel(2, [-0.5, 1, lowXTicks, 0.1], [20, 25.5, lowYTicks, 0.2], 'B\u2212V');

function dots(gi, data, size, color) {
  return { type: 'scatter', xAxisIndex: gi * 4, yAxisIndex: gi * 4, data: data,
    symbolSize: size, itemStyle: { color: color }, silent: true };
}
function curve(gi, data, color) {
  return { type: 'line', xAxisIndex: gi * 4, yAxisIndex: gi * 4, data: data,
    showSymbol: false, symbol: 'none', lineStyle: { color: color, width: 1.2 }, silent: true, z: 5 };
}

var series = [
  dots(0, topStars, 4.5, '#000'),
  curve(0, topIsoMain, '#ff0000'),
  curve(0, topIsoBranch, '#ff0000'),
  curve(0, topIsoLoop, '#ff0000'),
  dots(1, midStarsBright, 1.7, 'rgba(0,0,0,0.7)'),
  dots(1, midStarsMiddle, 1.7, 'rgba(0,0,0,0.7)'),
  dots(1, midStarsFaint, 1.7, 'rgba(0,0,0,0.75)'),
  dots(1, midStarsCore, 1.7, 'rgba(0,0,0,0.75)'),
  dots(1, midField, 1.5, 'rgba(0,0,0,0.6)'),
  curve(1, midIso, '#ff0000'),
  dots(2, lowStars, 4.5, '#000'),
  dots(2, lowCluster, 4.5, '#000'),
  curve(2, lowIso, '#0000ff')
];

ageNames.forEach(function (n, i) {
  if (ageLineMags[i] !== null) {
    series.push(curve(2, [[ageLineStart[i], ageLineMags[i]], [ageLineEnd[i], ageLineMags[i]]], '#0000ff'));
  }
});
series.push({
  type: 'scatter', xAxisIndex: 8, yAxisIndex: 8, silent: true, symbolSize: 1,
  itemStyle: { color: 'rgba(0,0,0,0)' },
  data: ageNames.map(function (n, i) { return { name: n, value: [ageLabelX, ageLabelMags[i]] }; }),
  label: { show: true, position: 'right', distance: 0, formatter: '{b}', color: '#0000ff',
    fontSize: 16, fontWeight: 'bold', fontFamily: 'Liberation Mono' }
});

var gridStyle = { show: true, borderColor: '#000', borderWidth: 2, backgroundColor: 'rgba(0,0,0,0)' };
var chart = echarts.init(document.getElementById('chart'));
chart.setOption({
  animation: false,
  backgroundColor: '#fff',
  grid: [
    Object.assign({ left: 229, top: 20, width: 355, height: 126 }, gridStyle),
    Object.assign({ left: 229, top: 197, width: 355, height: 315 }, gridStyle),
    Object.assign({ left: 229, top: 564, width: 355, height: 203 }, gridStyle)
  ],
  xAxis: p0.x.concat(p1.x, p2.x),
  yAxis: p0.y.concat(p1.y, p2.y),
  series: series
});
</script>
</body>
</html>
